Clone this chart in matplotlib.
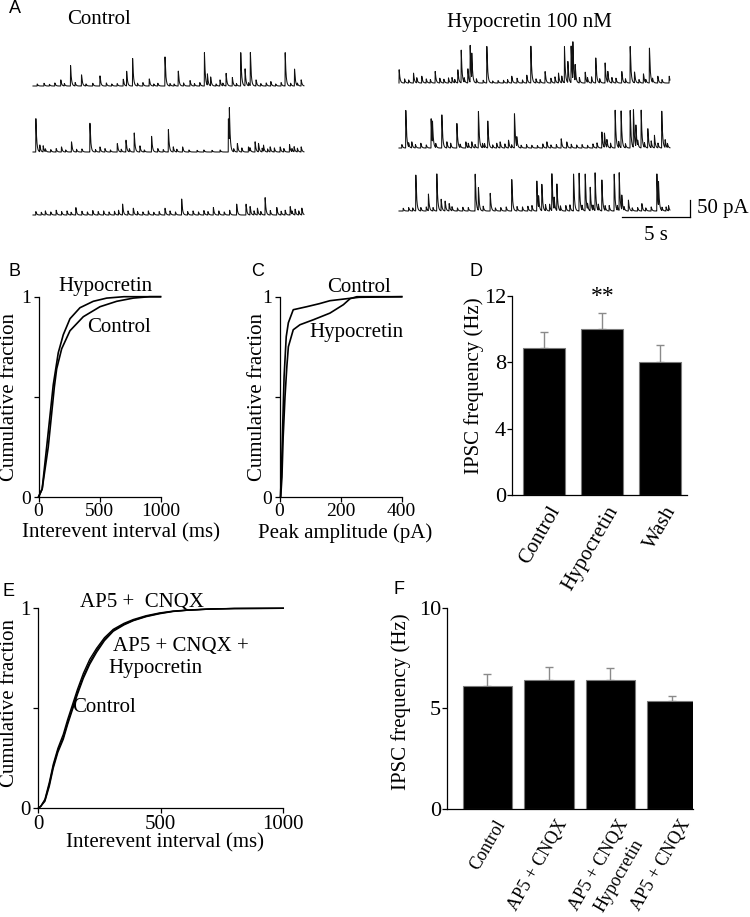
import numpy as np
import matplotlib
matplotlib.use('Agg')
import matplotlib.pyplot as plt
from matplotlib.transforms import ScaledTranslation

plt.rcParams['font.family'] = ['Liberation Serif', 'DejaVu Serif']

# ---------------- DATA ----------------
# Panel A: events (time in s, amplitude in pA)
ctrl1_t = [2.04, 2.76, 3.57, 4.93, 6.65, 6.90, 7.34, 8.57, 9.73, 10.71, 11.58, 12.64, 12.86, 13.10,
           13.79, 14.24, 14.70, 15.32, 15.64, 16.03, 16.45, 17.54, 18.60, 19.29, 19.78]
ctrl1_a = [18, 60, 33, 30, 20, 43, 81, 21, 86, 44, 16, 98, 33, 26, 18, 37, 25, 98, 50, 98, 18, 13, 98, 50, 18]
ctrl1_small_t = [0.3, 0.8, 1.2, 1.6, 2.3, 3.1, 3.9, 4.4, 5.4, 5.8, 6.2, 7.7, 8.1, 8.9, 9.2, 10.1, 10.4,
                 11.1, 11.9, 12.3, 13.5, 14.0, 15.0, 15.9, 16.8, 17.2, 17.9, 18.3, 19.0, 19.5]
ctrl1_small_a = [6, 8, 5, 9, 7, 10, 6, 8, 9, 6, 7, 8, 10, 6, 8, 7, 6, 9, 7, 10, 6, 8, 7, 9, 7, 9, 6, 10, 8, 7]

ctrl2_t = [0.20, 0.49, 0.74, 2.09, 2.83, 4.19, 4.93, 6.21, 6.85, 7.46, 7.88, 8.74, 9.98, 10.34, 11.03,
           14.41, 14.48, 15.07, 15.89, 16.38, 16.63, 17.00, 17.49, 18.23, 18.92, 19.26, 19.78]
ctrl2_a = [98, 20, 18, 15, 30, 85, 15, 25, 35, 56, 18, 46, 66, 15, 15, 98, 98, 25, 15, 30, 25, 18, 15,
           15, 22, 15, 15]
ctrl2_small_t = [0.9, 1.3, 1.7, 2.4, 3.2, 3.6, 4.6, 5.3, 5.7, 6.5, 7.1, 8.2, 9.2, 9.6, 10.6, 11.5, 12.1,
                 12.6, 13.2, 13.8, 14.8, 15.4, 16.0, 16.9, 17.3, 17.8, 18.5, 19.1, 19.5]
ctrl2_small_a = [8, 7, 10, 6, 8, 9, 7, 10, 6, 8, 9, 6, 10, 7, 8, 6, 5, 6, 5, 6, 9, 12, 10, 11, 9, 12, 10, 9, 11]

ctrl3_t = [3.15, 6.60, 7.39, 9.73, 10.96, 13.30, 15.02, 15.71, 16.01, 16.55, 17.12, 17.98, 18.97, 19.33, 19.83]
ctrl3_a = [22, 32, 20, 20, 47, 22, 32, 32, 25, 20, 51, 22, 25, 17, 20]
ctrl3_small_t = [0.2, 0.6, 0.9, 1.3, 1.7, 2.1, 2.5, 2.8, 3.6, 4.0, 4.4, 4.8, 5.2, 5.6, 6.0, 6.3, 7.0, 7.7,
                 8.1, 8.5, 8.9, 9.3, 10.1, 10.5, 11.4, 11.8, 12.2, 12.6, 12.9, 13.7, 14.1, 14.5, 16.3,
                 16.8, 17.5, 18.3, 18.6, 19.1, 19.6]
ctrl3_small_a = [10, 8, 12, 9, 14, 10, 12, 8, 11, 9, 13, 10, 12, 9, 11, 14, 12, 10, 9, 12, 8, 10, 12, 9,
                 10, 12, 9, 13, 10, 12, 9, 14, 12, 10, 13, 11, 14, 9, 12]

hyp1_t = [0.0, 1.06, 1.67, 2.66, 3.64, 4.33, 4.58, 5.07, 5.24, 5.36, 6.47, 8.31, 9.42, 9.72, 10.77, 11.76,
          12.20, 12.45, 12.69, 12.82, 12.99, 13.73, 14.51, 15.20, 15.40, 16.43, 17.05, 17.37, 18.03,
          18.47, 19.09, 19.93]
hyp1_a = [39, 29, 20, 34, 15, 39, 96, 42, 108, 72, 108, 20, 23, 108, 34, 29, 106, 62, 108, 108, 47, 32,
          74, 59, 32, 34, 108, 32, 27, 103, 20, 20]
hyp1_small_t = [0.4, 0.7, 1.3, 2.0, 2.3, 3.0, 3.3, 3.9, 4.1, 4.8, 5.7, 6.2, 6.9, 7.3, 7.7, 8.0, 8.7, 9.1,
                10.1, 10.4, 11.2, 11.5, 12.0, 13.3, 13.9, 14.2, 14.8, 15.7, 16.0, 16.7, 17.7, 18.2,
                18.7, 19.4]
hyp1_small_a = [12, 9, 15, 12, 10, 14, 11, 16, 10, 13, 12, 8, 6, 7, 8, 10, 14, 9, 12, 10, 14, 18, 20, 16,
                14, 18, 12, 16, 14, 12, 10, 9, 12, 10]

hyp2_t = [0.49, 0.93, 2.36, 2.46, 3.15, 3.52, 4.26, 4.92, 5.36, 5.85, 6.15, 6.54, 7.45, 8.07, 8.51, 8.68,
          9.79, 10.90, 11.96, 12.37, 14.96, 15.15, 15.33, 15.94, 16.38, 17.05, 17.29, 17.47, 17.86,
          18.35, 18.84, 19.38, 19.63]
hyp2_a = [111, 18, 86, 62, 98, 18, 72, 18, 18, 108, 13, 79, 18, 23, 101, 27, 8, 18, 27, 18, 47, 42, 23,
          111, 108, 111, 111, 62, 111, 57, 37, 108, 23]
hyp2_small_t = [0.2, 0.7, 1.2, 1.6, 2.0, 2.7, 3.8, 4.5, 5.1, 5.6, 6.3, 6.9, 7.2, 7.8, 8.3, 9.0, 9.4, 10.2,
                10.6, 11.2, 11.6, 12.7, 13.1, 13.5, 13.9, 14.3, 14.6, 15.6, 16.2, 16.7, 17.6, 18.1,
                18.6, 19.1, 19.8]
hyp2_small_a = [10, 12, 10, 14, 9, 12, 14, 10, 13, 10, 12, 9, 14, 12, 9, 8, 10, 7, 12, 9, 10, 11, 9, 10,
                8, 12, 15, 14, 18, 12, 15, 14, 20, 14, 12]

hyp3_t = [1.23, 2.16, 2.78, 3.10, 3.39, 3.69, 5.61, 5.85, 6.72, 8.31, 10.16, 10.29, 10.53, 11.27, 11.44,
          11.64, 12.87, 13.28, 13.73, 14.10, 14.46, 14.96, 15.87, 16.24, 16.43, 16.92, 17.91, 19.02,
          19.14, 19.88]
hyp3_a = [106, 49, 109, 34, 29, 22, 109, 67, 52, 93, 88, 34, 78, 109, 34, 78, 109, 111, 109, 69, 111, 91,
          109, 111, 42, 32, 22, 109, 71, 15]
hyp3_small_t = [0.3, 0.7, 1.0, 1.6, 2.0, 2.5, 3.9, 4.3, 4.7, 5.1, 6.2, 7.1, 7.5, 7.9, 8.7, 9.1, 9.5, 9.8,
                10.8, 11.1, 11.9, 12.3, 12.6, 13.5, 13.9, 14.3, 14.7, 15.2, 15.5, 16.1, 16.6, 17.2,
                17.6, 18.2, 18.6, 19.4, 19.7]
hyp3_small_a = [8, 10, 9, 10, 12, 10, 12, 9, 11, 10, 14, 9, 10, 12, 13, 12, 14, 16, 18, 20, 14, 16, 18,
                14, 16, 15, 18, 14, 16, 14, 10, 9, 10, 9, 12, 10, 12]

# Panel B: cumulative interevent interval (ms)
b_hyp_x = [0, 15, 30, 67, 121, 162, 203, 258, 340, 449, 559, 700, 1000]
b_hyp_y = [0, 0.02, 0.04, 0.25, 0.56, 0.72, 0.81, 0.89, 0.945, 0.977, 0.993, 1.0, 1.0]
b_ctrl_x = [0, 15, 30, 80, 130, 149, 190, 258, 367, 504, 641, 777, 910, 1000]
b_ctrl_y = [0, 0.02, 0.04, 0.25, 0.55, 0.64, 0.74, 0.83, 0.90, 0.95, 0.977, 0.993, 1.0, 1.0]

# Panel C: cumulative peak amplitude (pA)
c_ctrl_x = [3, 6, 10, 15, 22, 29, 45, 89, 130, 165, 209, 260, 400]
c_ctrl_y = [0, 0.1, 0.33, 0.6, 0.8, 0.87, 0.935, 0.95, 0.965, 0.98, 0.988, 0.997, 1.0]
c_hyp_x = [4, 8, 12, 18, 24, 29, 45, 67, 111, 165, 209, 231, 253, 400]
c_hyp_y = [0, 0.1, 0.3, 0.5, 0.65, 0.75, 0.835, 0.86, 0.885, 0.918, 0.96, 0.99, 1.0, 1.0]

# Panel D: IPSC frequency (Hz)
d_labels = ['Control', 'Hypocretin', 'Wash']
d_vals = [8.88, 10.0, 8.02]
d_err = [0.94, 0.93, 1.02]

# Panel E: cumulative interevent interval (ms)
e_x = [0, 10, 27, 45, 61, 80, 102, 120, 136, 160, 184, 210, 238, 270, 306, 350, 388, 440, 496, 550,
       605, 700, 800, 1000]
e_ctrl_y = [0, 0.01, 0.04, 0.12, 0.21, 0.29, 0.355, 0.43, 0.49, 0.58, 0.66, 0.73, 0.79, 0.845, 0.89,
            0.92, 0.94, 0.96, 0.975, 0.985, 0.99, 0.996, 0.999, 1.0]
e_ap5_y = [0, 0.01, 0.045, 0.13, 0.22, 0.30, 0.37, 0.445, 0.505, 0.595, 0.675, 0.745, 0.80, 0.853,
           0.895, 0.925, 0.944, 0.963, 0.977, 0.986, 0.991, 0.997, 0.999, 1.0]
e_ap5hyp_y = [0, 0.01, 0.035, 0.11, 0.20, 0.28, 0.345, 0.42, 0.48, 0.57, 0.65, 0.72, 0.78, 0.838,
              0.885, 0.917, 0.938, 0.958, 0.973, 0.984, 0.99, 0.996, 0.999, 1.0]

# Panel F: IPSC frequency (Hz)
f_labels = ['Control', 'AP5 + CNQX', 'AP5 + CNQX', 'AP5 + CNQX']
f_label2 = ['', '', 'Hypocretin', '']
f_vals = [6.11, 6.40, 6.40, 5.35]
f_err = [0.58, 0.66, 0.58, 0.25]

# ---------------- FIGURE ----------------
W, H = 750, 917
fig = plt.figure(figsize=(7.5, 9.17), dpi=100)


def axrect(x0, x1, ytop, ybot):
    return [x0 / W, 1 - ybot / H, (x1 - x0) / W, (ybot - ytop) / H]


def ftext(x, y, s, **kw):
    return fig.text(x / W, 1 - y / H, s, **kw)


LW_SP = 0.9
TXT = 15

def style_axes(ax, tsize=14, ypad=2, xpad=1):
    for s in ['top', 'right']:
        ax.spines[s].set_visible(False)
    for s in ['left', 'bottom']:
        ax.spines[s].set_linewidth(LW_SP)
    ax.tick_params(direction='out', length=3.6, width=LW_SP, labelsize=tsize)
    ax.tick_params(axis='y', pad=ypad)
    ax.tick_params(axis='x', pad=xpad)


# ---- Panel A: traces ----
PX_PER_S = 13.55
PX_PER_PA = 0.34
ax_a = fig.add_axes([0, 1 - 250 / H, 1, 250 / H])
ax_a.set_xlim(0, W / PX_PER_S)
ax_a.set_ylim(-250 / PX_PER_PA, 0)
ax_a.axis('off')

tau_r, tau_d = 0.004, 0.06
dt = 0.004
tt = np.arange(0, 20.0, dt)
_k = np.exp(-tt / tau_d) - np.exp(-tt / tau_r)
_kpeak = _k.max()


def build(ev_t, ev_a, sm_t, sm_a):
    y = np.zeros_like(tt)
    for te, a in list(zip(ev_t, ev_a)) + list(zip(sm_t, sm_a)):
        m = tt >= te
        s = tt[m] - te
        y[m] += a * (np.exp(-s / tau_d) - np.exp(-s / tau_r)) / _kpeak
    return y


traces = [
    (ctrl1_t, ctrl1_a, ctrl1_small_t, ctrl1_small_a, 33, 86),
    (ctrl2_t, ctrl2_a, ctrl2_small_t, ctrl2_small_a, 33, 152),
    (ctrl3_t, ctrl3_a, ctrl3_small_t, ctrl3_small_a, 33, 215),
    (hyp1_t, hyp1_a, hyp1_small_t, hyp1_small_a, 399, 83),
    (hyp2_t, hyp2_a, hyp2_small_t, hyp2_small_a, 399, 148),
    (hyp3_t, hyp3_a, hyp3_small_t, hyp3_small_a, 399, 211),
]
for et, ea, st, sa, x0px, ybase in traces:
    ax_a.plot(x0px / PX_PER_S + tt, -ybase / PX_PER_PA + build(et, ea, st, sa),
              color='#111111', lw=0.75)

# scale bar: 5 s, 50 pA
sb_x1 = 690 / PX_PER_S
sb_y0 = -217 / PX_PER_PA
ax_a.plot([sb_x1 - 5, sb_x1], [sb_y0, sb_y0], color='black', lw=0.9)
ax_a.plot([sb_x1, sb_x1], [sb_y0, sb_y0 + 50], color='black', lw=0.9)
ftext(697, 209, '50 pA', fontsize=TXT, ha='left', va='center')
ftext(656, 236, '5 s', fontsize=TXT, ha='center', va='center')
ftext(67, 20, 'Control', fontsize=TXT, ha='left', va='center')
ftext(447, 22, 'Hypocretin 100 nM', fontsize=TXT, ha='left', va='center')

# ---- Panel B ----
ax_b = fig.add_axes(axrect(38.5, 160.5, 296.7, 497))
ax_b.plot(b_hyp_x, b_hyp_y, color='black', lw=1.2, clip_on=False)
ax_b.plot(b_ctrl_x, b_ctrl_y, color='black', lw=1.2, clip_on=False)
ax_b.set_xlim(0, 1000)
ax_b.set_ylim(0, 1)
ax_b.set_xticks([0, 500, 1000])
ax_b.set_yticks([0, 0.5, 1])
ax_b.set_yticklabels(['0', '', '1'])
style_axes(ax_b)
ftext(58, 287, 'Hypocretin', fontsize=TXT, ha='left', va='center')
ftext(87, 328, 'Control', fontsize=TXT, ha='left', va='center')
ftext(9.5, 397, 'Cumulative fraction', fontsize=TXT, rotation=90, ha='center', va='center')
ftext(121, 533, 'Interevent interval (ms)', fontsize=TXT, ha='center', va='center')

# ---- Panel C ----
ax_c = fig.add_axes(axrect(279.5, 401.7, 296.7, 497))
ax_c.plot(c_ctrl_x, c_ctrl_y, color='black', lw=1.2, clip_on=False)
ax_c.plot(c_hyp_x, c_hyp_y, color='black', lw=1.2, clip_on=False)
ax_c.set_xlim(0, 400)
ax_c.set_ylim(0, 1)
ax_c.set_xticks([0, 200, 400])
ax_c.set_yticks([0, 0.5, 1])
ax_c.set_yticklabels(['0', '', '1'])
style_axes(ax_c)
ftext(327, 287, 'Control', fontsize=TXT, ha='left', va='center')
ftext(309, 332, 'Hypocretin', fontsize=TXT, ha='left', va='center')
ftext(257, 397, 'Cumulative fraction', fontsize=TXT, rotation=90, ha='center', va='center')
ftext(345, 533, 'Peak amplitude (pA)', fontsize=TXT, ha='center', va='center')

# ---- Panel D ----
ax_d = fig.add_axes(axrect(511.7, 687.3, 295.7, 495))
xd = np.arange(len(d_vals))
ax_d.bar(xd, d_vals, width=0.733, color='black', edgecolor='#7a7a7a', linewidth=0.8, zorder=2)
ax_d.errorbar(xd, d_vals, yerr=[np.zeros(len(d_err)), d_err], fmt='none', ecolor='#8a8a8a',
              elinewidth=1.0, capsize=3, capthick=1.0, zorder=1)
ax_d.set_xlim(-0.553, 2.474)
ax_d.set_ylim(0, 12)
ax_d.set_yticks([0, 4, 8, 12])
ax_d.set_xticks(xd)
ax_d.set_xticklabels(d_labels, rotation=60, ha='right', va='top', rotation_mode='anchor')
style_axes(ax_d, tsize=16, ypad=0.5)
ax_d.tick_params(axis='x', length=0, pad=5.8, labelsize=15)
for lbl in ax_d.get_xticklabels():
    lbl.set_transform(lbl.get_transform() + ScaledTranslation(0.04, 0, fig.dpi_scale_trans))
ftext(603, 302, '**', fontsize=17, ha='center', va='baseline')
ftext(474, 386, 'IPSC frequency (Hz)', fontsize=TXT, rotation=90, ha='center', va='center')

# ---- Panel E ----
ax_e = fig.add_axes(axrect(38.3, 283.3, 608.3, 808.3))
ax_e.plot(e_x, e_ctrl_y, color='black', lw=1.0, clip_on=False)
ax_e.plot(e_x, e_ap5_y, color='black', lw=1.0, clip_on=False)
ax_e.plot(e_x, e_ap5hyp_y, color='black', lw=1.0, clip_on=False)
ax_e.set_xlim(0, 1000)
ax_e.set_ylim(0, 1)
ax_e.set_xticks([0, 500, 1000])
ax_e.set_yticks([0, 0.5, 1])
ax_e.set_yticklabels(['0', '', '1'])
style_axes(ax_e, tsize=15)
ftext(80, 603, 'AP5 +  CNQX', fontsize=TXT, ha='left', va='center')
ftext(113, 647, 'AP5 + CNQX +', fontsize=TXT, ha='left', va='center')
ftext(108, 669, 'Hypocretin', fontsize=TXT, ha='left', va='center')
ftext(72, 708, 'Control', fontsize=TXT, ha='left', va='center')
ftext(9.5, 703, 'Cumulative fraction', fontsize=TXT, rotation=90, ha='center', va='center')
ftext(165, 843, 'Interevent interval (ms)', fontsize=TXT, ha='center', va='center')

# ---- Panel F ----
ax_f = fig.add_axes(axrect(446.7, 692.7, 607.7, 809))
xf = np.arange(len(f_vals))
ax_f.bar(xf, f_vals, width=0.807, color='black', edgecolor='#7a7a7a', linewidth=0.8, zorder=2)
ax_f.errorbar(xf, f_vals, yerr=[np.zeros(len(f_err)), f_err], fmt='none', ecolor='#8a8a8a',
              elinewidth=1.0, capsize=3, capthick=1.0, zorder=1)
ax_f.set_xlim(-0.663, 3.337)
ax_f.set_ylim(0, 10)
ax_f.set_yticks([0, 5, 10])
ax_f.set_xticks(xf)
ax_f.set_xticklabels(f_labels, rotation=60, ha='right', va='top', rotation_mode='anchor')
style_axes(ax_f, tsize=16, ypad=0.5)
ax_f.tick_params(axis='x', length=0, pad=5.5, labelsize=13)
for lbl in ax_f.get_xticklabels():
    lbl.set_transform(lbl.get_transform() + ScaledTranslation(0.07, 0, fig.dpi_scale_trans))
# second line of the two-line category label
for xi, s in zip(xf, f_label2):
    if s:
        ax_f.text(xi, 0, s, fontsize=13, rotation=60, ha='right', va='top', rotation_mode='anchor',
                  transform=ax_f.get_xaxis_transform() +
                  ScaledTranslation(0.07 + 0.15, -(0.077 + 0.20), fig.dpi_scale_trans))
ftext(401, 702, 'IPSC frequency (Hz)', fontsize=TXT, rotation=90, ha='center', va='center')

# ---- Panel letters ----
for letter, (x, y) in zip('ABCDEF', [(14.5, 8.5), (15, 271), (258, 271), (476, 271), (9, 591), (399, 590)]):
    ftext(x, y, letter, fontsize=13, family=['Liberation Sans', 'DejaVu Sans'], ha='center', va='center')

fig.savefig('out.png', dpi=100)
